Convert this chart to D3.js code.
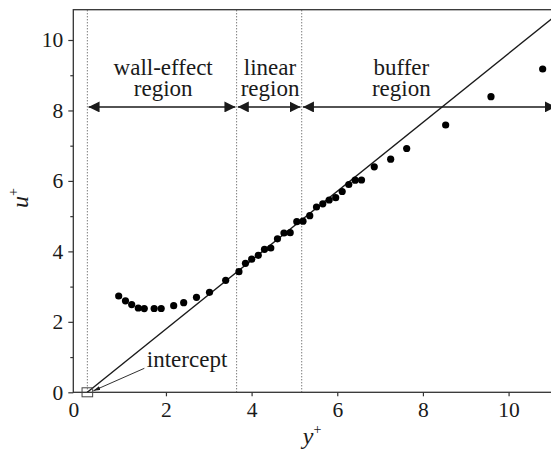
<!DOCTYPE html>
<html>
<head>
<meta charset="utf-8">
<script src="https://cdn.jsdelivr.net/npm/d3@7"></script>
<style>
  body { margin: 0; background: #fff; }
  svg { display: block; }
</style>
</head>
<body>
<svg id="chart" width="551" height="450"></svg>
<script>
// Mean velocity u+ against wall distance y+ (near-wall data)
const yPlus = [0.897, 1.055, 1.200, 1.354, 1.494, 1.725, 1.889, 2.181, 2.414, 2.713,
               3.017, 3.395, 3.705, 3.857, 4.002, 4.156, 4.301, 4.448, 4.604, 4.756,
               4.901, 5.055, 5.200, 5.358, 5.515, 5.662, 5.811, 5.963, 6.115, 6.269,
               6.418, 6.566, 6.864, 7.247, 7.621, 8.531, 9.589, 10.796];
const uPlus = [2.734, 2.597, 2.489, 2.393, 2.376, 2.379, 2.379, 2.458, 2.543, 2.697,
               2.839, 3.179, 3.423, 3.662, 3.778, 3.889, 4.059, 4.096, 4.357, 4.522,
               4.530, 4.843, 4.857, 5.013, 5.260, 5.351, 5.458, 5.524, 5.700, 5.898,
               6.021, 6.026, 6.401, 6.617, 6.920, 7.587, 8.391, 9.177];

// Fitted linear law through the intercept
const fitYPlus = [0.165, 11.3];
const fitUPlus = [0, 10.89];
const interceptYPlus = 0.165;

// Region boundaries and labels
const regionEdges = [0.165, 3.65, 5.17, 11.13];
const regionNames = [["wall-effect", "region"], ["linear", "region"], ["buffer", "region"]];
const regionLabelX = [1.935, 4.43, 7.495];
const regionArrowU = 8.1;

const xMajorTicks = [2, 4, 6, 8, 10];
const yMajorTicks = [0, 2, 4, 6, 8, 10];
const yMinorTicks = [1, 3, 5, 7, 9];

const serif = "'Liberation Serif', 'Times New Roman', Times, 'DejaVu Serif', serif";
const ink = "#1a1a1a";

const svg = d3.select("#chart").style("font-family", serif);
const plotLeft = 73.3, plotTop = 9.7, plotBottom = 392.3;

const x = d3.scaleLinear().domain([-0.163, 11.3]).range([plotLeft, plotLeft + 11.463 * 42.83]);
const y = d3.scaleLinear().domain([0, 10.86]).range([plotBottom, plotTop]);
const plotRight = x.range()[1];

const defs = svg.append("defs");
defs.append("clipPath").attr("id", "plotClip")
  .append("rect").attr("x", plotLeft).attr("y", plotTop)
  .attr("width", plotRight - plotLeft).attr("height", plotBottom - plotTop);
defs.append("marker").attr("id", "tri")
  .attr("viewBox", "0 0 11 11").attr("refX", 11).attr("refY", 5.5)
  .attr("markerWidth", 11).attr("markerHeight", 11)
  .attr("markerUnits", "userSpaceOnUse").attr("orient", "auto-start-reverse")
  .append("path").attr("d", "M0,0L11,5.5L0,11Z").attr("fill", ink);
defs.append("marker").attr("id", "smallTri")
  .attr("viewBox", "0 0 7 4").attr("refX", 7).attr("refY", 2)
  .attr("markerWidth", 7).attr("markerHeight", 4)
  .attr("markerUnits", "userSpaceOnUse").attr("orient", "auto")
  .append("path").attr("d", "M0,0L7,2L0,4Z").attr("fill", ink);

// Frame
svg.append("rect")
  .attr("x", plotLeft).attr("y", plotTop)
  .attr("width", plotRight - plotLeft).attr("height", plotBottom - plotTop)
  .attr("fill", "none").attr("stroke", "#333").attr("stroke-width", 1.3);

const plot = svg.append("g").attr("clip-path", "url(#plotClip)");

// Dotted region boundaries
plot.selectAll("line.edge").data(regionEdges.slice(0, 3)).join("line")
  .attr("class", "edge")
  .attr("x1", d => x(d)).attr("x2", d => x(d))
  .attr("y1", y(0)).attr("y2", plotTop)
  .attr("stroke", "#444").attr("stroke-width", 1)
  .attr("stroke-dasharray", "1,2");

// Fitted line
plot.append("path")
  .datum(fitYPlus.map((v, i) => [v, fitUPlus[i]]))
  .attr("d", d3.line().x(d => x(d[0])).y(d => y(d[1])))
  .attr("fill", "none").attr("stroke", ink).attr("stroke-width", 1.4);

// Double-headed region arrows
const gap = 1.2;
plot.selectAll("line.arrow").data(d3.range(3)).join("line")
  .attr("class", "arrow")
  .attr("x1", i => x(regionEdges[i]) + gap)
  .attr("x2", i => x(regionEdges[i + 1]) - gap)
  .attr("y1", y(regionArrowU)).attr("y2", y(regionArrowU))
  .attr("stroke", ink).attr("stroke-width", 1.5)
  .attr("marker-start", "url(#tri)").attr("marker-end", "url(#tri)");

// Region labels (two lines each, tight leading)
const arrowY = y(regionArrowU);
regionNames.forEach((lines, i) => {
  lines.forEach((s, j) => {
    svg.append("text")
      .attr("x", x(regionLabelX[i]))
      .attr("y", arrowY - 31.5 + j * 20.8)
      .attr("text-anchor", "middle")
      .style("font-family", serif).style("font-size", "23px")
      .attr("fill", ink)
      .text(s);
  });
});

// Data points
plot.selectAll("circle").data(yPlus).join("circle")
  .attr("cx", d => x(d))
  .attr("cy", (d, i) => y(uPlus[i]))
  .attr("r", 3.6)
  .attr("fill", "#000");

// Intercept marker and label
const ix = x(interceptYPlus), iy = y(0);
svg.append("rect")
  .attr("x", ix - 5.3).attr("y", iy - 4.5)
  .attr("width", 10.6).attr("height", 9)
  .attr("fill", "none").attr("stroke", "#444").attr("stroke-width", 1);
svg.append("line")
  .attr("x1", ix + 57).attr("y1", iy - 24)
  .attr("x2", ix + 6).attr("y2", iy - 1.5)
  .attr("stroke", ink).attr("stroke-width", 0.9)
  .attr("marker-end", "url(#smallTri)");
svg.append("text")
  .attr("x", ix + 59.5).attr("y", iy - 25.6)
  .style("font-family", serif).style("font-size", "23px")
  .attr("fill", ink)
  .text("intercept");

// Axes
const xAxis = svg.append("g")
  .attr("transform", `translate(0,${plotBottom})`)
  .call(d3.axisBottom(x).tickValues(xMajorTicks).tickSize(4).tickPadding(5.5).tickFormat(d3.format("d")));
const yAxis = svg.append("g")
  .attr("transform", `translate(${plotLeft},0)`)
  .call(d3.axisLeft(y).tickValues(yMajorTicks).tickSize(5).tickPadding(5).tickFormat(d3.format("d")));
svg.append("g")
  .attr("transform", `translate(${plotLeft},0)`)
  .call(d3.axisLeft(y).tickValues(yMinorTicks).tickSize(3).tickFormat(""))
  .call(g => g.select(".domain").remove());

[xAxis, yAxis].forEach(g => {
  g.select(".domain").remove();
  g.attr("font-family", null).attr("font-size", null);
  g.selectAll(".tick text")
    .style("font-family", serif).style("font-size", "21.5px")
    .attr("fill", ink);
});
svg.selectAll(".tick line").attr("stroke", "#333").attr("stroke-width", 1.2);

// Origin label sits at the axis corner
svg.append("text")
  .attr("x", plotLeft + 0.5).attr("y", plotBottom + 9.5).attr("dy", "0.71em")
  .attr("text-anchor", "middle")
  .style("font-family", serif).style("font-size", "21.5px")
  .attr("fill", ink)
  .text("0");

// Axis titles
const xt = svg.append("text")
  .attr("x", 312).attr("y", 444)
  .attr("text-anchor", "middle")
  .style("font-family", serif).style("font-size", "24px")
  .attr("fill", ink);
xt.append("tspan").style("font-style", "italic").text("y");
xt.append("tspan").style("font-size", "14px").attr("dy", -10).text("+");

const yt = svg.append("text")
  .attr("transform", "translate(28,198) rotate(-90)")
  .attr("text-anchor", "middle")
  .style("font-family", serif).style("font-size", "24px")
  .attr("fill", ink);
yt.append("tspan").style("font-style", "italic").text("u");
yt.append("tspan").style("font-size", "14px").attr("dy", -10).text("+");
</script>
</body>
</html>
